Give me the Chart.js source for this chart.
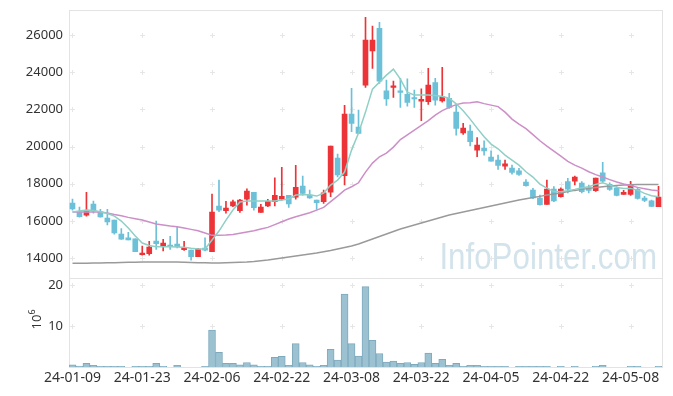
<!DOCTYPE html>
<html>
<head>
<meta charset="utf-8">
<script src="https://cdn.jsdelivr.net/npm/chart.js@4"></script>
<style>
html, body { margin: 0; padding: 0; background: #fff; }
</style>
</head>
<body>
<canvas id="chart" width="673" height="396"></canvas>
<script>
const dates = [
    '24-01-09','24-01-10','24-01-11','24-01-12','24-01-15','24-01-16','24-01-17','24-01-18','24-01-19','24-01-22',
    '24-01-23','24-01-24','24-01-25','24-01-26','24-01-29','24-01-30','24-01-31','24-02-01','24-02-02','24-02-05',
    '24-02-06','24-02-07','24-02-08','24-02-13','24-02-14','24-02-15','24-02-16','24-02-19','24-02-20','24-02-21',
    '24-02-22','24-02-23','24-02-26','24-02-27','24-02-28','24-02-29','24-03-04','24-03-05','24-03-06','24-03-07',
    '24-03-08','24-03-11','24-03-12','24-03-13','24-03-14','24-03-15','24-03-18','24-03-19','24-03-20','24-03-21',
    '24-03-22','24-03-25','24-03-26','24-03-27','24-03-28','24-03-29','24-04-01','24-04-02','24-04-03','24-04-04',
    '24-04-05','24-04-08','24-04-09','24-04-11','24-04-12','24-04-15','24-04-16','24-04-17','24-04-18','24-04-19',
    '24-04-22','24-04-23','24-04-24','24-04-25','24-04-26','24-04-29','24-04-30','24-05-02','24-05-03','24-05-07',
    '24-05-08','24-05-09','24-05-10','24-05-13','24-05-14'
];

const openPrices = [
    16960,16500,16310,16910,16480,16150,16040,15290,15090,15040,
    14180,14230,14920,14610,14700,14750,14450,14430,14070,14540,
    14340,16800,16550,16810,16550,17170,17540,16460,16810,17030,
    17170,17370,17270,17870,17390,17120,17030,17540,19380,18430,
    21750,21050,23310,25150,26370,23000,23180,23000,22810,22630,
    22450,22410,23450,22460,22590,21860,20740,20830,19810,19920,
    19430,19270,18950,18840,18700,18090,17660,17230,16890,17710,
    17300,18110,18140,18040,17780,17620,18590,17970,17770,17430,
    17420,17700,17230,17080,16760
];
const highPrices = [
    17170,16740,17540,17070,16620,16620,16040,15580,15380,15040,
    14650,14900,15990,15010,15170,15680,14900,14430,14520,15090,
    17440,18200,17050,17120,17160,17730,17540,16890,17160,18320,
    18880,17370,18990,18410,17660,17120,17660,20030,19600,22220,
    23130,21960,26950,26480,26680,23580,23520,23670,23650,23040,
    23110,24210,23670,24260,22860,22220,21250,21160,20490,20310,
    19770,19540,19270,19000,18830,18230,17750,17390,18200,17840,
    17780,18290,18410,18110,17930,18300,19150,18050,17840,17640,
    18130,17800,17320,17120,17860
];
const lowPrices = [
    16580,16200,16260,16420,16200,15780,15290,15000,14970,14340,
    14150,14150,14470,14380,14470,14550,14410,13890,14070,14390,
    14340,16490,16410,16760,16460,16850,16580,16460,16760,16800,
    17120,16730,17170,17390,17210,16620,16940,17300,18370,17930,
    20800,20700,23180,24210,23400,22220,22650,22110,22180,22110,
    21400,22270,22230,22390,22050,20620,20660,20040,19450,19540,
    19220,18770,18770,18520,18450,17870,17190,16840,16890,17030,
    17270,17510,17940,17510,17510,17590,18070,17640,17340,17430,
    17370,17170,17030,16760,16760
];
const closePrices = [
    16640,16230,16570,16530,16220,15940,15350,15020,14970,14340,
    14270,14590,14770,14810,14610,14610,14550,14070,14480,14430,
    16480,16580,16690,17030,17120,17610,16710,16740,17050,17370,
    17320,16920,17800,17480,17240,16980,17510,20030,18480,21750,
    21250,20710,25730,25730,23520,22570,23270,22920,22380,22570,
    22540,23310,22500,22680,22110,20980,20990,20260,20080,19760,
    19220,18990,19070,18610,18500,17890,17230,16870,17710,17080,
    17710,17710,18360,17570,17640,18300,18140,17700,17370,17540,
    17930,17210,17100,16780,17280
];
// volume, millions of shares
const volumes = [
    0.5,0.2,0.9,0.4,0.15,0.15,0.15,0.15,0,0.15,
    0.15,0.15,0.9,0.15,0,0.4,0,0,0,0.15,
    9.0,3.55,0.9,0.9,0.5,1.1,0.5,0.15,0.15,2.35,
    2.6,0.4,5.7,1.1,0.5,0.15,0.4,4.3,1.7,17.8,
    5.7,2.65,19.6,6.5,3.3,1.2,1.45,0.9,1.1,0.65,
    1.1,3.4,0.9,1.85,0.4,0.9,0.15,0.4,0.4,0.15,
    0.15,0.15,0.15,0,0.15,0.15,0.15,0.15,0.15,0,
    0.15,0,0.15,0,0,0.15,0.4,0,0,0,
    0.15,0.15,0,0,0.15
];
const maShort = [
    16475,16529,16582,16556,16491,16394,16260,15991,15614,15184,
    14807,14673,14608,14608,14608,14592,14576,14522,14484,14484,
    14968,15453,16044,16582,17013,17067,17067,17067,17067,17067,
    17120,17174,17389,17406,17406,17336,17497,17927,18196,18627,
    19810,20725,21855,23092,23469,23845,24168,23630,22931,22769,
    22769,22769,22743,22689,22608,22301,21925,21478,20994,20526,
    20133,19880,19541,19272,19003,18643,18358,17981,17766,17578,
    17567,17621,17696,17782,17836,17965,18051,17927,17804,17750,
    17750,17658,17481,17352,17298
];
const maMid = [
    16475,16475,16475,16475,16475,16421,16340,16276,16190,16114,
    16044,15937,15829,15775,15722,15684,15614,15544,15469,15345,
    15221,15221,15237,15264,15329,15399,15469,15560,15652,15802,
    15953,16098,16222,16330,16437,16582,16728,17040,17336,17658,
    17836,18051,18627,19111,19450,19649,19972,20375,20634,20886,
    21139,21398,21693,21936,22108,22258,22339,22355,22409,22312,
    22231,22151,21855,21478,21209,20967,20644,20311,20026,19757,
    19488,19202,19003,18842,18643,18492,18358,18223,18089,17981,
    17901,17804,17728,17658,17621
];
const maLong = [
    13715,13720,13726,13731,13736,13747,13753,13763,13769,13779,
    13785,13785,13785,13785,13785,13785,13774,13763,13753,13742,
    13731,13736,13747,13758,13774,13785,13812,13849,13892,13946,
    14000,14054,14108,14161,14215,14269,14334,14404,14484,14565,
    14646,14753,14888,15022,15157,15291,15426,15560,15668,15775,
    15883,15991,16098,16206,16313,16394,16475,16556,16636,16717,
    16798,16878,16959,17040,17120,17190,17255,17319,17389,17443,
    17497,17578,17642,17696,17750,17793,17836,17874,17901,17927,
    17949,17960,17965,17965,17965
];
const priceTicks = [14000, 16000, 18000, 20000, 22000, 24000, 26000];
const volumeTicks = [10, 20];

const upColor = '#ec3438';
const downColor = '#6cc0d8';
const candleColors = openPrices.map((o, i) => closePrices[i] >= o ? upColor : downColor);

const decorPlugin = {
    id: 'decor',
    beforeDatasetsDraw(chart) {
        const ctx = chart.ctx;
        const xs = chart.scales.x, ys = chart.scales.y, yv = chart.scales.yVol;
        ctx.save();

        // watermark, squeezed a little to match the narrow original lettering
        ctx.save();
        ctx.translate(xs.right - 5, ys.bottom - 9);
        ctx.scale(0.87, 1);
        ctx.font = '36px "Liberation Sans", Arial, sans-serif';
        ctx.fillStyle = 'rgba(182,208,222,0.6)';
        ctx.textAlign = 'right';
        ctx.textBaseline = 'alphabetic';
        ctx.fillText('InfoPointer.com', 0, 0);
        ctx.restore();

        // frames
        ctx.strokeStyle = '#e3e3e3';
        ctx.lineWidth = 1;
        ctx.strokeRect(Math.round(xs.left) + 0.5, Math.round(ys.top) + 0.5,
            Math.round(xs.right - xs.left), Math.round(ys.bottom - ys.top));
        ctx.strokeRect(Math.round(xs.left) + 0.5, Math.round(yv.top) + 0.5,
            Math.round(xs.right - xs.left), Math.round(yv.bottom - yv.top));

        // little crosses at grid points
        ctx.strokeStyle = '#e6e6e6';
        const cols = [];
        for (let i = 0; i < dates.length; i += 10) {
            cols.push(Math.round(xs.getPixelForValue(i)) + 0.5);
        }
        const mark = (px, py) => {
            ctx.beginPath();
            ctx.moveTo(px - 2.5, py); ctx.lineTo(px + 2.5, py);
            ctx.moveTo(px, py - 2.5); ctx.lineTo(px, py + 2.5);
            ctx.stroke();
        };
        priceTicks.forEach(v => {
            const py = Math.round(ys.getPixelForValue(v)) + 0.5;
            cols.forEach(px => mark(px, py));
        });
        volumeTicks.forEach(v => {
            const py = Math.round(yv.getPixelForValue(v)) + 0.5;
            cols.forEach(px => mark(px, py));
        });
        ctx.restore();
    },
    afterDraw(chart) {
        const ctx = chart.ctx;
        const yv = chart.scales.yVol;
        ctx.save();
        ctx.translate(37, (yv.top + yv.bottom) / 2 - 3);
        ctx.rotate(-Math.PI / 2);
        ctx.fillStyle = '#333';
        ctx.textBaseline = 'middle';
        ctx.font = '13px "Noto Sans", sans-serif';
        const w1 = ctx.measureText('10').width;
        ctx.font = '9px "Noto Sans", sans-serif';
        const w2 = ctx.measureText('6').width;
        const start = -(w1 + w2) / 2;
        ctx.font = '13px "Noto Sans", sans-serif';
        ctx.textAlign = 'left';
        ctx.fillText('10', start, 0);
        ctx.font = '9px "Noto Sans", sans-serif';
        ctx.fillText('6', start + w1, -5);
        ctx.restore();
    }
};

const tickFont = { family: '"Noto Sans", sans-serif', size: 13 };

// keep the panes exactly where the layout padding puts them
function fitLeftAxis(s) {
    s.width = 69;
    s.paddingTop = 0;
    s.paddingBottom = 0;
}

const chart = new Chart(document.getElementById('chart'), {
    type: 'bar',
    data: {
        labels: dates,
        datasets: [
            {
                type: 'line',
                label: 'MA5',
                data: maShort,
                yAxisID: 'y',
                borderColor: '#8fcfc5',
                borderWidth: 1.5,
                pointRadius: 0,
                order: 0
            },
            {
                type: 'line',
                label: 'MA20',
                data: maMid,
                yAxisID: 'y',
                borderColor: '#cc8fc7',
                borderWidth: 1.5,
                pointRadius: 0,
                order: 0
            },
            {
                type: 'line',
                label: 'MA60',
                data: maLong,
                yAxisID: 'y',
                borderColor: '#9a9a9a',
                borderWidth: 1.5,
                pointRadius: 0,
                order: 0
            },
            {
                label: 'wick',
                data: lowPrices.map((l, i) => [l, highPrices[i]]),
                yAxisID: 'y',
                backgroundColor: candleColors,
                barThickness: 1,
                grouped: false,
                order: 2
            },
            {
                label: 'body',
                data: openPrices.map((o, i) => [o, closePrices[i]]),
                yAxisID: 'y',
                backgroundColor: candleColors,
                barThickness: 5,
                minBarLength: 1,
                grouped: false,
                order: 1
            },
            {
                label: 'volume',
                data: volumes,
                yAxisID: 'yVol',
                backgroundColor: '#9cc2d2',
                borderColor: '#7eaabd',
                borderWidth: 1,
                barPercentage: 1,
                categoryPercentage: 1,
                grouped: false,
                order: 3
            }
        ]
    },
    options: {
        responsive: false,
        animation: false,
        layout: { padding: { top: 10, right: 11, left: 0, bottom: 0 } },
        plugins: {
            legend: { display: false },
            tooltip: { enabled: false }
        },
        scales: {
            x: {
                offset: true,
                grid: { display: false, drawTicks: false },
                border: { display: false },
                ticks: {
                    autoSkip: false,
                    maxRotation: 0,
                    padding: 3,
                    color: '#333',
                    font: { family: '"Noto Sans", sans-serif', size: 14 },
                    callback: (v, i) => i % 10 === 0 ? dates[i] : ''
                },
                afterFit: s => { s.height = 29; }
            },
            yVol: {
                position: 'left',
                stack: 'panes',
                stackWeight: 1,
                min: 0,
                max: 21.75,
                grid: { display: false, drawTicks: false },
                border: { display: false },
                ticks: { padding: 6, color: '#333', font: tickFont, callback: v => String(v) },
                afterBuildTicks: s => { s.ticks = volumeTicks.map(v => ({ value: v })); },
                afterFit: fitLeftAxis
            },
            y: {
                position: 'left',
                stack: 'panes',
                stackWeight: 3,
                min: 12940,
                max: 27350,
                grid: { display: false, drawTicks: false },
                border: { display: false },
                ticks: { padding: 6, color: '#333', font: tickFont, callback: v => String(v) },
                afterBuildTicks: s => { s.ticks = priceTicks.map(v => ({ value: v })); },
                afterFit: fitLeftAxis
            }
        }
    },
    plugins: [decorPlugin]
});
</script>
</body>
</html>
